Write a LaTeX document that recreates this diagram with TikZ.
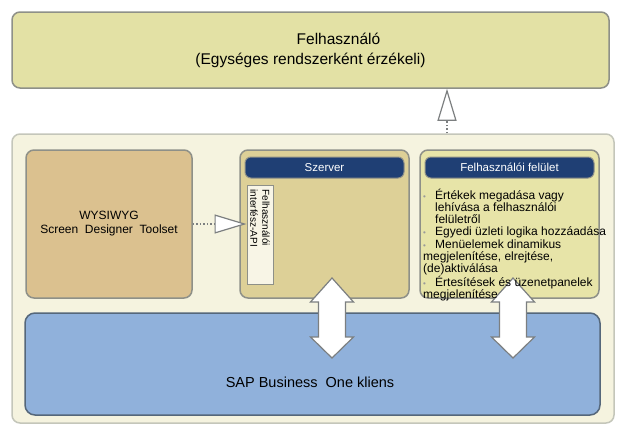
\documentclass[tikz,border=0pt]{standalone}
\usepackage{fontspec}
\setmainfont{Liberation Sans}
\usetikzlibrary{arrows.meta}

\definecolor{userfill}{HTML}{E3E1A5}
\definecolor{outerfill}{HTML}{F5F3DF}
\definecolor{outerline}{HTML}{C4C6BA}
\definecolor{boxline}{HTML}{8E9088}
\definecolor{wysfill}{HTML}{DBC18F}
\definecolor{srvfill}{HTML}{DDD097}
\definecolor{uifill}{HTML}{E7E4A8}
\definecolor{apifill}{HTML}{F8F5E6}
\definecolor{hdrblue}{HTML}{1F3F74}
\definecolor{sapfill}{HTML}{90B1DB}
\definecolor{sapline}{HTML}{55677A}
\definecolor{arrgray}{HTML}{7C7F80}

\tikzstyle{panel}=[draw=boxline, line width=1.5pt, rounded corners=8pt, inner sep=0pt]
\tikzstyle{header}=[fill=hdrblue, draw=boxline, line width=1pt, rounded corners=6pt, text=white,
  font=\fontsize{11.5}{13}\selectfont, minimum height=21pt, inner sep=0pt]
\tikzstyle{hollowarr}=[draw=arrgray, line width=1.2pt, dash pattern=on 1.5pt off 2pt,
  -{Triangle[length=32pt,width=19pt,fill=white,line width=1.2pt]}]
\tikzstyle{dblarr}=[draw=arrgray, line width=1.2pt, fill=white, line join=miter]
\newcommand{\bul}{\makebox[12pt][l]{\textcolor{gray!80}{\fontsize{8}{8}\selectfont •}}}
% kettos nyil a megadott pont kozeppel
\newcommand{\dblarrow}[1]{\draw[dblarr] (#1) ++(0,-40) -- ++(21.5,24) -- ++(-8,0) -- ++(0,35)
  -- ++(8,0) -- ++(-21.5,21) -- ++(-21.5,-21) -- ++(8,0) -- ++(0,-35) -- ++(-8,0) -- cycle;}

\begin{document}
\begin{tikzpicture}[x=1pt,y=-1pt]
            \useasboundingbox (0,0) rectangle (618,426);
            % felhasznalo
            \node[panel, fill=userfill, minimum width=597pt, minimum height=76pt, align=center,
              font=\fontsize{15.5}{20}\selectfont] at (310.5,50) (user)
              {\hspace*{56pt}Felhasználó\\(Egységes rendszerként érzékeli)};
            % kliens keret
            \node[panel, fill=outerfill, draw=outerline, minimum width=602pt, minimum height=289pt] at (313,278.5) (client) {};
            \node[panel, fill=wysfill, minimum width=166pt, minimum height=148pt, align=center,
              font=\fontsize{12}{14}\selectfont] at (109,224) (wys) {WYSIWYG\\Screen\ \ Designer\ \ Toolset};
            \node[panel, fill=srvfill, minimum width=169pt, minimum height=148pt] at (324.5,224) (srv) {};
            \node[header, minimum width=159pt] at (324.5,167.5) (srvhdr) {Szerver};
            \node[draw=boxline, line width=1pt, fill=apifill, minimum width=26pt, minimum height=99pt, inner sep=0pt] at (260,234.5) (api) {};
            \node[rotate=-90, anchor=west, align=left, inner sep=0pt, font=\fontsize{10}{12}\selectfont]
              at ([yshift=-5pt]api.north) (apitxt) {Felhasználói\\interfész-API};
            \node[panel, fill=uifill, minimum width=179pt, minimum height=148pt] at (509.5,224) (ui) {};
            \node[header, minimum width=169pt] at (509.5,167.5) (uihdr) {Felhasználói felület};
            \node[panel, fill=sapfill, draw=sapline, rounded corners=10pt, minimum width=575pt, minimum height=102pt] at (312.5,364) (sap) {};
            \node[font=\fontsize{14.5}{16}\selectfont] at (310,382) (saptxt) {SAP Business\ \ One kliens};
            % nyilak
            \coordinate (upx) at (447,0);
            \draw[hollowarr] (client.north -| upx) -- (user.south -| upx);
            \draw[hollowarr] (wys.east) -- (wys.east -| api.west);
            \coordinate (srvarr) at (332,318);
            \coordinate (uiarr) at (513,318);
            \dblarrow{srvarr}
            \dblarrow{uiarr}
            \node[anchor=north west, align=left, inner sep=0pt, font=\fontsize{12}{12.1}\selectfont] at (423,189) (uitxt)
              {\bul Értékek megadása vagy\\
               \hspace*{12pt}lehívása a felhasználói\\
               \hspace*{12pt}felületről\\
               \bul Egyedi üzleti logika hozzáadása\\
               \bul Menüelemek dinamikus\\
               megjelenítése, elrejtése,\\
               (de)aktiválása\\
               \bul Értesítések és üzenetpanelek\\
               megjelenítése};
\end{tikzpicture}
\end{document}
